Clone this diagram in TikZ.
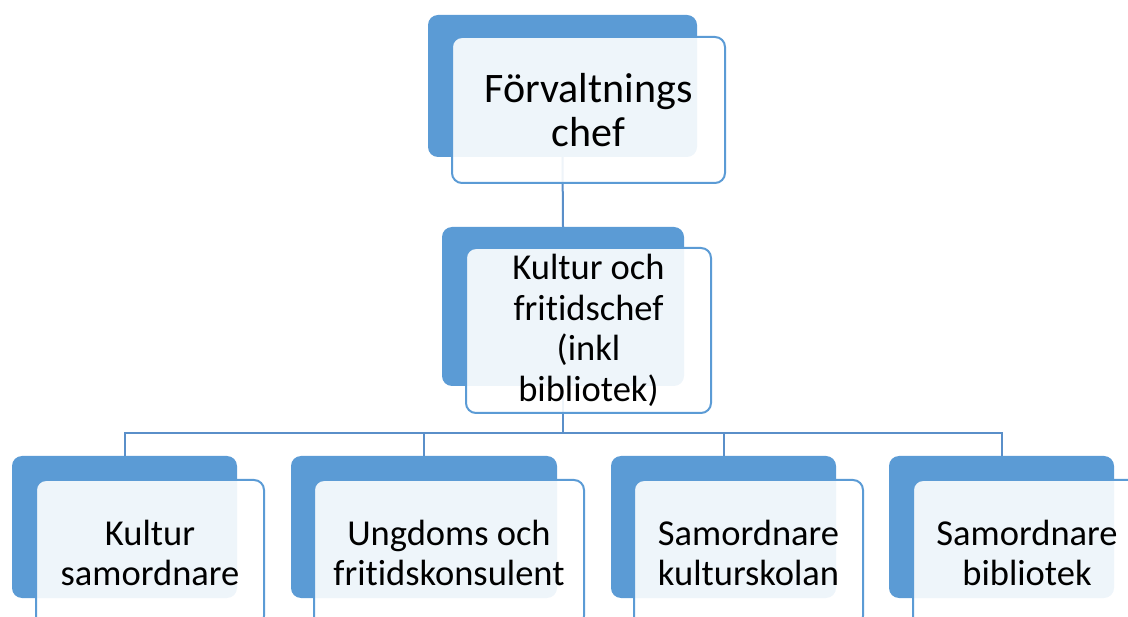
\documentclass[tikz,border=0pt]{standalone}
\usepackage{fontspec}
\setmainfont{Carlito}[Ligatures=NoCommon]
\usetikzlibrary{positioning}

\definecolor{accblue}{HTML}{5B9BD5}
\definecolor{linkblue}{HTML}{5A8FC9}

\tikzset{
  backbox/.style={fill=accblue, rounded corners=10pt, inner sep=0pt},
  frontbox/.style={draw=accblue, line width=2pt, fill=white, fill opacity=0.9, text opacity=1,
    rounded corners=10pt, inner sep=0pt, align=center, font=\fontsize{36.5}{40.5}\selectfont},
  link/.style={draw=linkblue, line width=2pt}
}

\begin{document}
\begin{tikzpicture}[x=1pt,y=-1pt]
		\useasboundingbox (0,0) rectangle (1128,617);

		% Back boxes
		\node[backbox, minimum width=269pt, minimum height=142pt] (chefB) at (562.5,86) {};
		\node[backbox, minimum width=242pt, minimum height=159pt] (kulturB) at (563,306.5) {};
		\node[backbox, minimum width=225pt, minimum height=142pt] (samB) at (124.5,527) {};
		\node[backbox, minimum width=266pt, minimum height=142pt] (ungB) at (424,527) {};
		\node[backbox, minimum width=225pt, minimum height=142pt] (skolaB) at (723.5,527) {};
		\node[backbox, minimum width=225pt, minimum height=142pt] (biblB) at (1001.5,527) {};

		% Connectors
		\coordinate (bus) at (563,433);
		\draw[link] (chefB.south) -- (kulturB.north);
		\draw[link] (kulturB.south) -- (bus);
		\draw[link] (samB.north) |- (bus) -| (biblB.north);
		\draw[link] (ungB.north) -- (ungB.north |- bus);
		\draw[link] (skolaB.north) -- (skolaB.north |- bus);

		% Front boxes
		\node[frontbox, minimum width=273pt, minimum height=146pt, font=\fontsize{42}{44}\selectfont] (chef) at (588.5,110) {Förvaltnings\\chef};
		\node[frontbox, minimum width=245pt, minimum height=165pt] (kultur) at (588.5,330.5) {Kultur och\\fritidschef\\(inkl\\bibliotek)};
		\node[frontbox, minimum width=228pt, minimum height=146pt] (sam) at (150,553) {Kultur\\samordnare};
		\node[frontbox, minimum width=270pt, minimum height=146pt] (ung) at (449,553) {Ungdoms och\\fritidskonsulent};
		\node[frontbox, minimum width=229pt, minimum height=146pt] (skola) at (748.5,553) {Samordnare\\kulturskolan};
		\node[frontbox, minimum width=228pt, minimum height=146pt] (bibl) at (1027,553) {Samordnare\\bibliotek};
	\end{tikzpicture}
\end{document}
